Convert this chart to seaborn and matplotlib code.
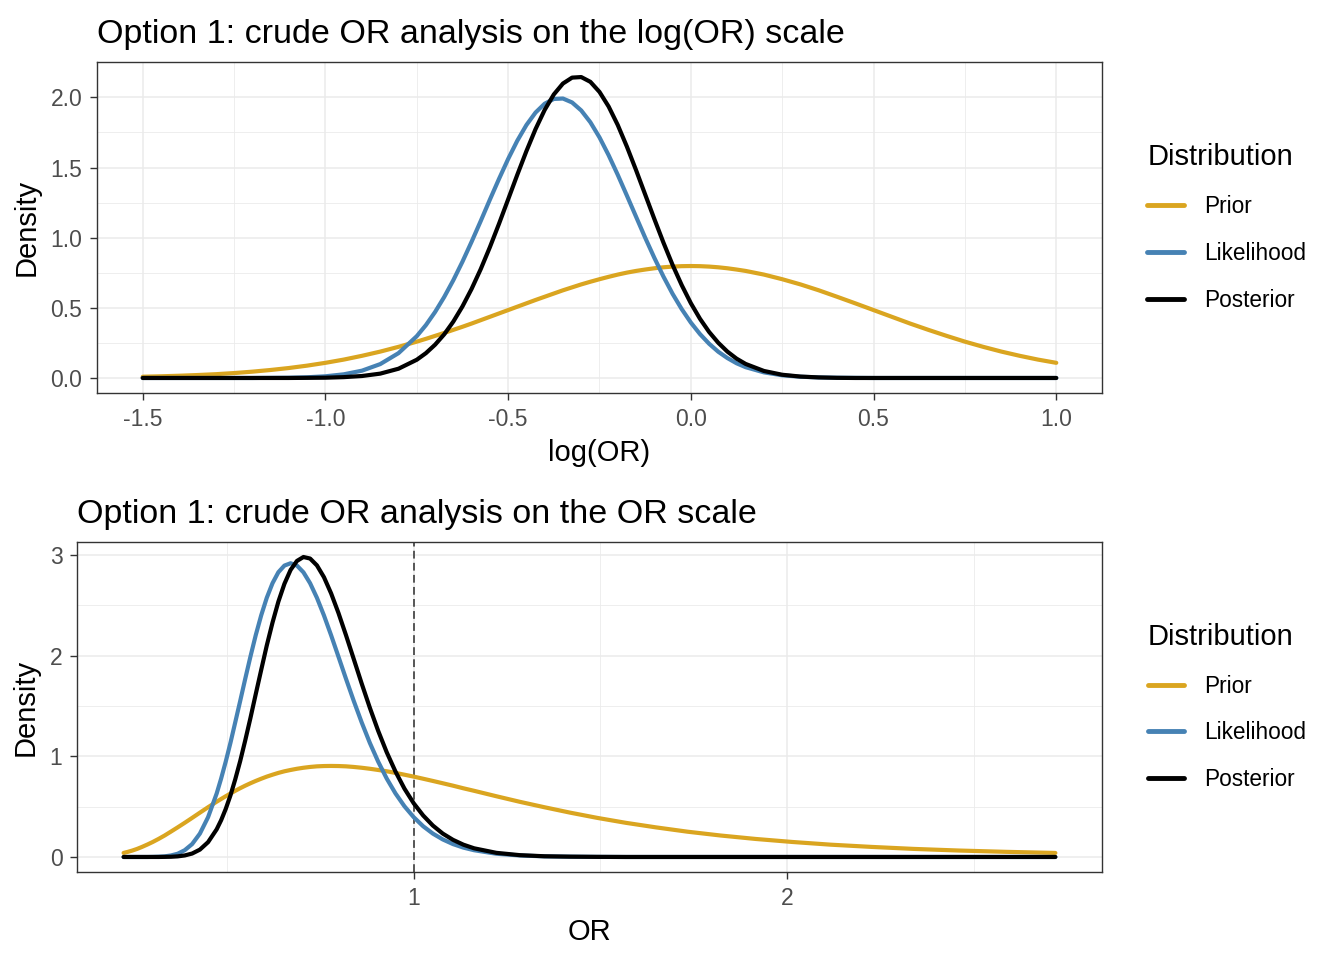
import pandas as pd
import seaborn as sns
import matplotlib.pyplot as plt
from matplotlib.ticker import MultipleLocator

# grid on the log(OR) scale (denser around the peaks)
log_or = [-1.50, -1.45, -1.40, -1.35, -1.30, -1.25, -1.20, -1.15, -1.10, -1.05,
          -1.00, -0.95, -0.90, -0.85, -0.80, -0.75,
          -0.725, -0.70, -0.675, -0.65, -0.625, -0.60, -0.575, -0.55, -0.525, -0.50,
          -0.475, -0.45, -0.425, -0.40, -0.375, -0.35, -0.325, -0.30, -0.275, -0.25,
          -0.225, -0.20, -0.175, -0.15, -0.125, -0.10, -0.075, -0.05, -0.025, 0.00,
          0.025, 0.05, 0.075, 0.10, 0.125, 0.15,
          0.20, 0.25, 0.30, 0.35, 0.40, 0.45, 0.50, 0.55, 0.60, 0.65,
          0.70, 0.75, 0.80, 0.85, 0.90, 0.95, 1.00]

prior_log = [0.009, 0.012, 0.016, 0.021, 0.027, 0.035, 0.045, 0.057, 0.071, 0.088,
             0.108, 0.131, 0.158, 0.188, 0.222, 0.259,
             0.279, 0.300, 0.321, 0.343, 0.365, 0.388, 0.412, 0.436, 0.460, 0.484,
             0.508, 0.532, 0.556, 0.579, 0.602, 0.625, 0.646, 0.667, 0.686, 0.704,
             0.721, 0.737, 0.751, 0.763, 0.773, 0.782, 0.789, 0.794, 0.797, 0.798,
             0.797, 0.794, 0.789, 0.782, 0.773, 0.763,
             0.737, 0.704, 0.667, 0.625, 0.579, 0.532, 0.484, 0.436, 0.388, 0.343,
             0.300, 0.259, 0.222, 0.188, 0.158, 0.131, 0.108]

lik_log = [0.000, 0.000, 0.000, 0.000, 0.000, 0.000, 0.000, 0.001, 0.002, 0.005,
           0.012, 0.026, 0.052, 0.099, 0.177, 0.298,
           0.377, 0.470, 0.577, 0.697, 0.829, 0.971, 1.119, 1.271, 1.419, 1.561,
           1.691, 1.803, 1.892, 1.955, 1.989, 1.992, 1.964, 1.907, 1.823, 1.715,
           1.588, 1.448, 1.300, 1.150, 1.000, 0.857, 0.723, 0.600, 0.491, 0.395,
           0.313, 0.244, 0.187, 0.142, 0.105, 0.077,
           0.040, 0.019, 0.009, 0.004, 0.002, 0.001, 0.000, 0.000, 0.000, 0.000,
           0.000, 0.000, 0.000, 0.000, 0.000, 0.000, 0.000]

post_log = [0.000, 0.000, 0.000, 0.000, 0.000, 0.000, 0.000, 0.000, 0.000, 0.001,
            0.002, 0.006, 0.014, 0.031, 0.066, 0.130,
            0.177, 0.237, 0.311, 0.402, 0.510, 0.635, 0.776, 0.932, 1.099, 1.273,
            1.448, 1.617, 1.774, 1.911, 2.021, 2.099, 2.141, 2.145, 2.111, 2.039,
            1.935, 1.803, 1.649, 1.482, 1.308, 1.134, 0.965, 0.806, 0.662, 0.533,
            0.422, 0.328, 0.251, 0.188, 0.138, 0.100,
            0.050, 0.023, 0.010, 0.004, 0.001, 0.000, 0.000, 0.000, 0.000, 0.000,
            0.000, 0.000, 0.000, 0.000, 0.000, 0.000, 0.000]

# same points on the OR scale
odds_ratio = [0.2231, 0.2346, 0.2466, 0.2592, 0.2725, 0.2865, 0.3012, 0.3166, 0.3329, 0.3499,
              0.3679, 0.3867, 0.4066, 0.4274, 0.4493, 0.4724,
              0.4843, 0.4966, 0.5092, 0.5220, 0.5353, 0.5488, 0.5627, 0.5769, 0.5916, 0.6065,
              0.6219, 0.6376, 0.6538, 0.6703, 0.6873, 0.7047, 0.7225, 0.7408, 0.7596, 0.7788,
              0.7985, 0.8187, 0.8395, 0.8607, 0.8825, 0.9048, 0.9277, 0.9512, 0.9753, 1.0000,
              1.0253, 1.0513, 1.0779, 1.1052, 1.1331, 1.1618,
              1.2214, 1.2840, 1.3499, 1.4191, 1.4918, 1.5683, 1.6487, 1.7333, 1.8221, 1.9155,
              2.0138, 2.1170, 2.2255, 2.3396, 2.4596, 2.5857, 2.7183]

prior_or = [0.040, 0.051, 0.064, 0.080, 0.100, 0.123, 0.149, 0.179, 0.213, 0.252,
            0.294, 0.339, 0.388, 0.440, 0.494, 0.549,
            0.576, 0.603, 0.630, 0.657, 0.683, 0.708, 0.732, 0.755, 0.777, 0.798,
            0.817, 0.835, 0.851, 0.864, 0.876, 0.886, 0.894, 0.900, 0.903, 0.904,
            0.903, 0.900, 0.894, 0.886, 0.876, 0.864, 0.851, 0.835, 0.817, 0.798,
            0.777, 0.755, 0.732, 0.708, 0.682, 0.657,
            0.603, 0.548, 0.494, 0.440, 0.388, 0.339, 0.294, 0.251, 0.213, 0.179,
            0.149, 0.122, 0.100, 0.080, 0.064, 0.051, 0.040]

lik_or = [0.000, 0.000, 0.000, 0.000, 0.000, 0.000, 0.001, 0.003, 0.006, 0.015,
          0.032, 0.067, 0.128, 0.232, 0.395, 0.631,
          0.779, 0.947, 1.133, 1.336, 1.549, 1.769, 1.989, 2.202, 2.400, 2.574,
          2.719, 2.828, 2.894, 2.917, 2.894, 2.827, 2.719, 2.574, 2.399, 2.202,
          1.989, 1.769, 1.549, 1.336, 1.133, 0.947, 0.779, 0.631, 0.503, 0.395,
          0.305, 0.232, 0.174, 0.128, 0.093, 0.067,
          0.032, 0.015, 0.006, 0.003, 0.001, 0.000, 0.000, 0.000, 0.000, 0.000,
          0.000, 0.000, 0.000, 0.000, 0.000, 0.000, 0.000]

post_or = [0.000, 0.000, 0.000, 0.000, 0.000, 0.000, 0.000, 0.000, 0.001, 0.002,
           0.006, 0.015, 0.034, 0.073, 0.147, 0.275,
           0.365, 0.477, 0.611, 0.770, 0.952, 1.157, 1.379, 1.616, 1.858, 2.100,
           2.328, 2.536, 2.713, 2.851, 2.940, 2.979, 2.964, 2.896, 2.779, 2.618,
           2.423, 2.202, 1.965, 1.722, 1.482, 1.253, 1.040, 0.848, 0.678, 0.533,
           0.412, 0.312, 0.232, 0.170, 0.122, 0.086,
           0.041, 0.018, 0.007, 0.003, 0.001, 0.000, 0.000, 0.000, 0.000, 0.000,
           0.000, 0.000, 0.000, 0.000, 0.000, 0.000, 0.000]

labels = ["Prior", "Likelihood", "Posterior"]
colores = ["#DAA520", "#4682B4", "#000000"]

def long_table(x, series):
    partes = []
    for nome, vals in zip(labels, series):
        partes.append(pd.DataFrame({"x": x, "dens": vals, "Distribution": nome}))
    return pd.concat(partes, ignore_index=True)

tab_log = long_table(log_or, [prior_log, lik_log, post_log])
tab_or = long_table(odds_ratio, [prior_or, lik_or, post_or])

sns.set_theme(style="white")
plt.rcParams['font.family'] = ['Liberation Sans', 'DejaVu Sans']
plt.rcParams['text.color'] = 'black'
plt.rcParams['axes.labelcolor'] = 'black'

fig = plt.figure(figsize=(13.44, 9.6), dpi=100)
ax1 = fig.add_axes([0.0722, 0.5906, 0.7477, 0.3448])
ax2 = fig.add_axes([0.0573, 0.0917, 0.7626, 0.3437])

def estilo(ax, titulo, xlab, xmaj, xmin, ymaj, ymin):
    ax.set_facecolor("white")
    ax.xaxis.set_major_locator(MultipleLocator(xmaj))
    ax.xaxis.set_minor_locator(MultipleLocator(xmin))
    ax.yaxis.set_major_locator(MultipleLocator(ymaj))
    ax.yaxis.set_minor_locator(MultipleLocator(ymin))
    ax.grid(which="major", color="#EBEBEB", lw=1.1)
    ax.grid(which="minor", color="#EBEBEB", lw=0.6)
    ax.set_axisbelow(True)
    for s in ax.spines.values():
        s.set_color("#333333")
        s.set_linewidth(1.0)
    ax.tick_params(which="major", length=5, width=1.0, color="#333333", pad=5.5,
                   labelsize=16.5, labelcolor="#4D4D4D", left=True, bottom=True)
    ax.tick_params(which="minor", length=0)
    ax.set_title(titulo, loc="left", fontsize=24.5, pad=14, color="black")
    ax.set_xlabel(xlab, fontsize=21, labelpad=6, color="black")
    ax.set_ylabel("Density", fontsize=21, labelpad=7, color="black")
    ax.margins(x=0.05, y=0.05)
    leg = ax.legend(loc="center left", bbox_to_anchor=(1.025, 0.5), frameon=False,
                    title="Distribution", fontsize=16.3, title_fontsize=21,
                    handlelength=1.6, handletextpad=0.9, labelspacing=1.05)
    leg._legend_box.align = "left"
    for h in leg.legend_handles:
        h.set_linewidth(3.5)

sns.lineplot(data=tab_log, x="x", y="dens", hue="Distribution", hue_order=labels,
             palette=colores, lw=3.0, ax=ax1)
estilo(ax1, "Option 1: crude OR analysis on the log(OR) scale", "log(OR)", 0.5, 0.25, 0.5, 0.25)
ax1.xaxis.set_major_formatter(lambda v, p: f"{v:.1f}")
ax1.yaxis.set_major_formatter(lambda v, p: f"{v:.1f}")

ax2.axvline(1, color="#555555", ls=(0, (4, 2.2)), lw=1.4, zorder=1.5)
sns.lineplot(data=tab_or, x="x", y="dens", hue="Distribution", hue_order=labels,
             palette=colores, lw=3.0, ax=ax2)
estilo(ax2, "Option 1: crude OR analysis on the OR scale", "OR", 1, 0.5, 1, 0.5)
ax2.xaxis.set_major_formatter(lambda v, p: f"{v:.0f}")
ax2.yaxis.set_major_formatter(lambda v, p: f"{v:.0f}")

fig.savefig("out.png", dpi=100)
